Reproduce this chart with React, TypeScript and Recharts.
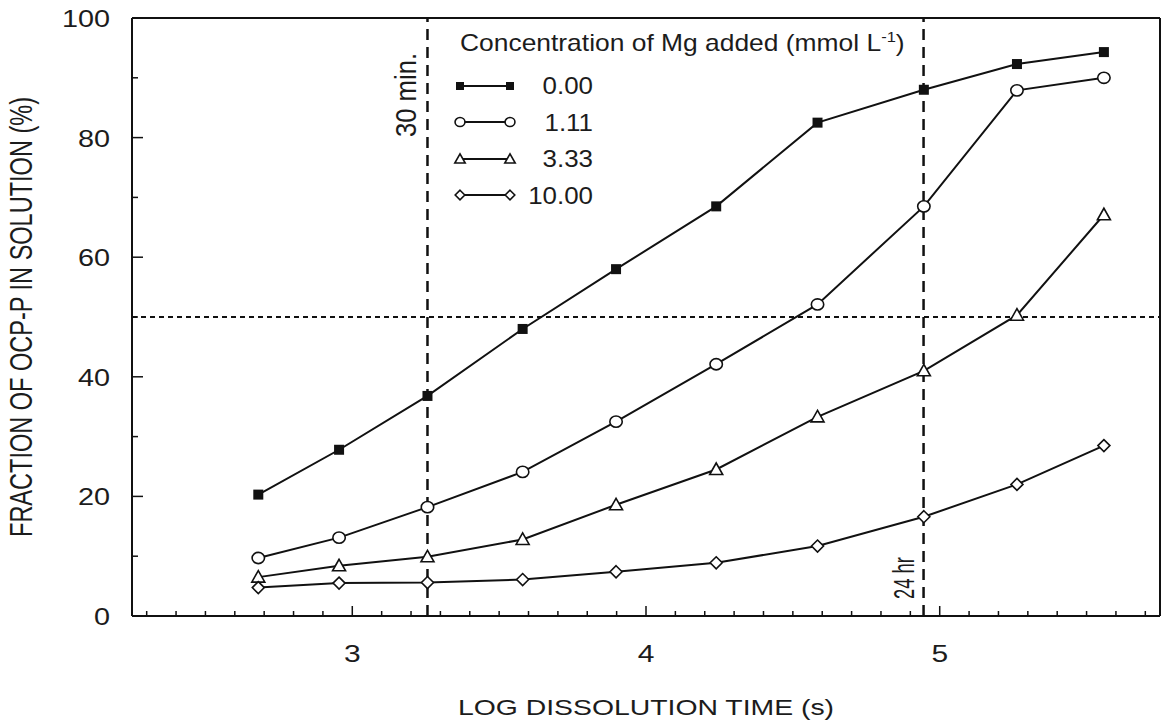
import React from 'react';
import { LineChart, Line, XAxis, YAxis, ReferenceLine, Legend } from 'recharts';

// log10 of dissolution time (s) for each sampling point
const logTime = [2.68, 2.955, 3.256, 3.58, 3.898, 4.239, 4.584, 4.946, 5.263, 5.559];

// fraction of OCP-P in solution (%) per Mg concentration
const mg000 = [20.3, 27.8, 36.8, 48.0, 58.0, 68.5, 82.5, 88.0, 92.3, 94.3];
const mg111 = [9.7, 13.1, 18.2, 24.1, 32.5, 42.1, 52.1, 68.5, 87.9, 90.0];
const mg333 = [6.5, 8.4, 9.9, 12.8, 18.6, 24.5, 33.3, 41.0, 50.3, 67.1];
const mg1000 = [4.75, 5.5, 5.6, 6.1, 7.4, 8.9, 11.7, 16.6, 22.0, 28.5];

const seriesNames = ['0.00', '1.11', '3.33', '10.00'];
const seriesKeys = ['s0', 's1', 's2', 's3'];
const seriesShapes = ['square', 'circle', 'triangle', 'diamond'];

const xMajorTicks = [3, 4, 5];
const yMajorTicks = [0, 20, 40, 60, 80, 100];
const yMinorTicks = [10, 30, 50, 70, 90];

const time30min = 3.256;
const time24hr = 4.945;
const halfLevel = 50;

const xDomain = [2.25, 5.75];
const yDomain = [0, 100];

const FONT = '"Liberation Sans", Arial, sans-serif';
const INK = '#111';
const TEXT = '#1c1c1c';

const xTicks: number[] = [];
for (let k = 23; k <= 57; k++) xTicks.push(k / 10);
const yTicks = [...yMajorTicks, ...yMinorTicks].sort((a, b) => a - b);

const data = logTime.map((t, i) => ({
  t,
  s0: mg000[i],
  s1: mg111[i],
  s2: mg333[i],
  s3: mg1000[i],
}));

const Marker = ({ cx, cy, shape, s = 1 }: any) => {
  if (cx == null || cy == null) return null;
  if (shape === 'square') {
    const h = 5 * s;
    return <rect x={cx - h} y={cy - h} width={2 * h} height={2 * h} fill={INK} />;
  }
  if (shape === 'circle') {
    return <ellipse cx={cx} cy={cy} rx={6.2 * s} ry={5.6 * s} fill="#fff" stroke={INK} strokeWidth={1.6} />;
  }
  if (shape === 'triangle') {
    const w = 6.5 * s;
    return (
      <polygon
        points={`${cx},${cy - 6.5 * s} ${cx - w},${cy + 5 * s} ${cx + w},${cy + 5 * s}`}
        fill="#fff"
        stroke={INK}
        strokeWidth={1.6}
      />
    );
  }
  const d = 6 * s;
  return (
    <polygon
      points={`${cx},${cy - d} ${cx + d},${cy} ${cx},${cy + d} ${cx - d},${cy}`}
      fill="#fff"
      stroke={INK}
      strokeWidth={1.6}
    />
  );
};

// the scanned figure is a bit wider than tall, so text gets a horizontal stretch
const StretchText = ({ x, y, sx = 1.2, anchor = 'middle', size = 24, children }: any) => (
  <text
    transform={`translate(${x},${y}) scale(${sx},1)`}
    textAnchor={anchor}
    fontSize={size}
    fontFamily={FONT}
    fill={TEXT}
  >
    {children}
  </text>
);

const VText = ({ x, y, size = 24, sy = 1.25, length, children }: any) => (
  <text
    transform={`translate(${x},${y}) rotate(-90) scale(1,${sy})`}
    textAnchor="middle"
    dominantBaseline="central"
    fontSize={size}
    fontFamily={FONT}
    fill={TEXT}
    textLength={length}
    lengthAdjust="spacingAndGlyphs"
  >
    {children}
  </text>
);

const XTick = (props: any) => {
  const { x, y, payload } = props;
  const v = payload.value;
  const major = xMajorTicks.some((m) => Math.abs(m - v) < 1e-6);
  return (
    <g>
      <line x1={x} x2={x} y1={y} y2={y - (major ? 10 : 5)} stroke={INK} strokeWidth={1.5} />
      {major && (
        <StretchText x={x} y={y + 46} sx={1.25}>
          {v}
        </StretchText>
      )}
    </g>
  );
};

const YTick = (props: any) => {
  const { x, y, payload } = props;
  const v = payload.value;
  const major = yMajorTicks.includes(v);
  return (
    <g>
      <line x1={x} x2={x + (major ? 11 : 6)} y1={y} y2={y} stroke={INK} strokeWidth={1.5} />
      {major && (
        <StretchText x={x - 22} y={y + 9} anchor="end" sx={1.2}>
          {v}
        </StretchText>
      )}
    </g>
  );
};

const VLabel = (props: any) => {
  const { viewBox, text, dx, dy, length } = props;
  if (!viewBox) return null;
  return (
    <VText x={viewBox.x + dx} y={viewBox.y + dy} size={24} sy={1.22} length={length}>
      {text}
    </VText>
  );
};

const YTitle = (props: any) => {
  const { viewBox } = props;
  const y = viewBox ? viewBox.y + viewBox.height / 2 : 317;
  return (
    <VText x={21} y={y} size={24} sy={1.28} length={440}>
      FRACTION OF OCP-P IN SOLUTION (%)
    </VText>
  );
};

const XTitle = (props: any) => {
  const { viewBox } = props;
  const x = viewBox ? viewBox.x + viewBox.width / 2 : 646;
  const y = viewBox ? viewBox.y + 99 : 715;
  return (
    <StretchText x={x} y={y} size={22} sx={1.29}>
      LOG DISSOLUTION TIME (s)
    </StretchText>
  );
};

const LegendContent = () => (
  <div style={{ fontFamily: FONT, color: TEXT, lineHeight: 1.15 }}>
    <div
      style={{
        fontSize: 24,
        whiteSpace: 'nowrap',
        marginLeft: 8,
        display: 'inline-block',
        transform: 'scaleX(1.1)',
        transformOrigin: 'left center',
      }}
    >
      Concentration of Mg added (mmol L<sup style={{ fontSize: 15 }}>-1</sup>)
    </div>
    <div style={{ marginTop: 11 }}>
      {seriesNames.map((name, i) => (
        <div key={name} style={{ display: 'flex', alignItems: 'center', height: 36.5 }}>
          <svg width={66} height={20} style={{ display: 'block' }}>
            <line x1={8} x2={58} y1={10} y2={10} stroke={INK} strokeWidth={2} />
            <Marker cx={8} cy={10} shape={seriesShapes[i]} s={0.8} />
            <Marker cx={58} cy={10} shape={seriesShapes[i]} s={0.8} />
          </svg>
          <span
            style={{
              width: 75,
              textAlign: 'right',
              fontSize: 24,
              display: 'inline-block',
              transform: 'scaleX(1.08)',
              transformOrigin: 'right center',
            }}
          >
            {name}
          </span>
        </div>
      ))}
    </div>
  </div>
);

export default function App() {
  return (
    <div style={{ position: 'absolute', left: 0, top: 0, background: '#fff' }}>
      <LineChart
        width={1163}
        height={723}
        data={data}
        margin={{ top: 18, right: 3, left: 0, bottom: 0 }}
      >
        <XAxis
          dataKey="t"
          type="number"
          domain={xDomain}
          ticks={xTicks}
          interval={0}
          allowDataOverflow
          tickSize={0}
          tickMargin={0}
          tickLine={false}
          tick={<XTick />}
          height={107}
          axisLine={{ stroke: INK, strokeWidth: 2 }}
          label={<XTitle />}
        />
        <YAxis
          type="number"
          domain={yDomain}
          ticks={yTicks}
          interval={0}
          allowDataOverflow
          tickSize={0}
          tickMargin={0}
          tickLine={false}
          tick={<YTick />}
          width={132}
          axisLine={{ stroke: INK, strokeWidth: 2 }}
          label={<YTitle />}
        />
        <ReferenceLine y={yDomain[1]} stroke={INK} strokeWidth={2} />
        <ReferenceLine x={xDomain[1]} stroke={INK} strokeWidth={2} />
        <ReferenceLine y={halfLevel} stroke={INK} strokeWidth={2} strokeDasharray="5 4" />
        <ReferenceLine
          x={time30min}
          stroke={INK}
          strokeWidth={2.5}
          strokeDasharray="11 7"
          label={<VLabel text="30 min." dx={-21} dy={77} length={84} />}
        />
        <ReferenceLine
          x={time24hr}
          stroke={INK}
          strokeWidth={2.5}
          strokeDasharray="11 7"
          label={<VLabel text="24 hr" dx={-19} dy={560} length={42} />}
        />
        <Legend
          layout="vertical"
          align="center"
          verticalAlign="middle"
          wrapperStyle={{ left: 452, top: 28, width: 480, right: 'auto', bottom: 'auto' }}
          content={<LegendContent />}
        />
        {seriesKeys.map((k, i) => (
          <Line
            key={k}
            dataKey={k}
            type="linear"
            stroke={INK}
            strokeWidth={2}
            isAnimationActive={false}
            activeDot={false}
            dot={(p: any) => <Marker key={`${k}-${p.index}`} cx={p.cx} cy={p.cy} shape={seriesShapes[i]} />}
          />
        ))}
      </LineChart>
    </div>
  );
}
